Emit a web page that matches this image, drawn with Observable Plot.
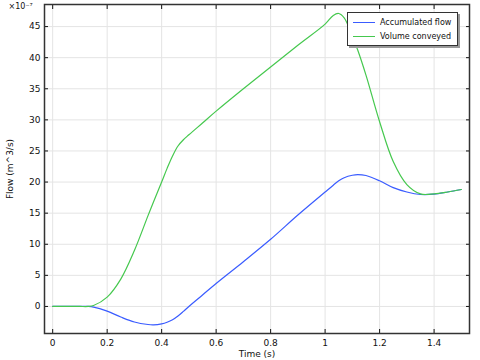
<!DOCTYPE html>
<html><head><meta charset="utf-8">
<script src="https://cdn.jsdelivr.net/npm/d3@7"></script>
<script src="https://cdn.jsdelivr.net/npm/@observablehq/plot@0.6"></script>
<style>
body{margin:0;background:#fff;font-family:"DejaVu Sans",sans-serif;}
#wrap{position:relative;width:480px;height:360px;}
#legend{position:absolute;left:347px;top:12px;width:111px;height:34px;background:#fff;border:1.5px solid #333;box-shadow:2px 2px 0 #999;font-size:8px;color:#111;white-space:nowrap;box-sizing:border-box;padding-top:2px;}
#legend .row{display:flex;align-items:center;height:14px;margin-left:5px;}
#legend .sw{width:22px;height:0;border-top:1.5px solid;margin-right:5px;flex:none;}
</style></head>
<body><div id="wrap"><div id="legend"></div></div>
<script>
const time = [0,0.05,0.1,0.13,0.15,0.2,0.25,0.3,0.35,0.37,0.4,0.42,0.44,0.46,0.48,0.5,0.55,0.6,0.7,0.8,0.9,1.0,1.03,1.05,1.07,1.1,1.12,1.15,1.2,1.25,1.3,1.35,1.4,1.45,1.5];
const accumulated = [0,0,0,0,-0.1,-0.75,-1.7,-2.5,-2.9,-2.95,-2.8,-2.55,-2.15,-1.55,-0.8,0.0,1.85,3.7,7.2,10.8,14.7,18.4,19.5,20.2,20.7,21.1,21.2,21.05,20.2,19.1,18.4,18.0,18.05,18.4,18.8];
const conveyed = [0,0,0,0,0.15,1.5,4.4,9.0,14.6,16.8,20.0,22.2,24.2,25.8,26.8,27.6,29.5,31.4,35.0,38.5,42.0,45.4,46.8,47.1,46.4,43.5,41.2,37.2,29.7,23.3,19.6,18.1,18.1,18.4,18.8];
const seriesNames = ["Accumulated flow","Volume conveyed"];
const colors = ["#3a5cff","#45c84e"];
const xTicks = [0,0.2,0.4,0.6,0.8,1,1.2,1.4];
const yTicks = [0,5,10,15,20,25,30,35,40,45];

const data = [];
time.forEach((t,i)=>{
  data.push({t, v: accumulated[i], s: seriesNames[0]});
  data.push({t, v: conveyed[i], s: seriesNames[1]});
});

const chart = Plot.plot({
  width:480, height:360,
  marginLeft:44, marginRight:11, marginTop:4, marginBottom:27,
  style:{fontFamily:"DejaVu Sans, sans-serif", fontSize:"9px", color:"#111"},
  x:{domain:[-0.03,1.53]},
  y:{domain:[-4.35,48.55]},
  color:{domain:seriesNames, range:colors},
  marks:[
    Plot.gridX(xTicks,{stroke:"#e4e4e4", strokeOpacity:1}),
    Plot.gridY(yTicks,{stroke:"#e4e4e4", strokeOpacity:1}),
    Plot.line(data,{x:"t", y:"v", stroke:"s", z:"s", curve:"catmull-rom", strokeWidth:1.2}),
    Plot.axisX(xTicks,{anchor:"bottom", tickSize:-4, tickPadding:10, tickFormat:d=>String(d), label:"Time (s)", labelAnchor:"center", labelArrow:"none", labelOffset:23, fontSize:9}),
    Plot.axisX(xTicks,{anchor:"top", tickSize:-4, tickFormat:()=>"", label:null}),
    Plot.axisY(yTicks,{anchor:"left", tickSize:-4, tickPadding:8, label:"Flow (m^3/s)", labelAnchor:"center", labelArrow:"none", labelOffset:38}),
    Plot.axisY(yTicks,{anchor:"right", tickSize:-4, tickFormat:()=>"", label:null}),
    Plot.frame({stroke:"#333", strokeWidth:1.5}),
    Plot.text(["×10⁻⁷"],{frameAnchor:"top-left", dx:-36, dy:-1, textAnchor:"start", fontSize:8})
  ]
});
document.getElementById("wrap").prepend(chart);
const lg = document.getElementById("legend");
seriesNames.forEach((n,i)=>{
  const r=document.createElement("div"); r.className="row";
  const sw=document.createElement("div"); sw.className="sw"; sw.style.borderColor=colors[i];
  r.appendChild(sw); r.appendChild(document.createTextNode(n)); lg.appendChild(r);
});
</script></body></html>
